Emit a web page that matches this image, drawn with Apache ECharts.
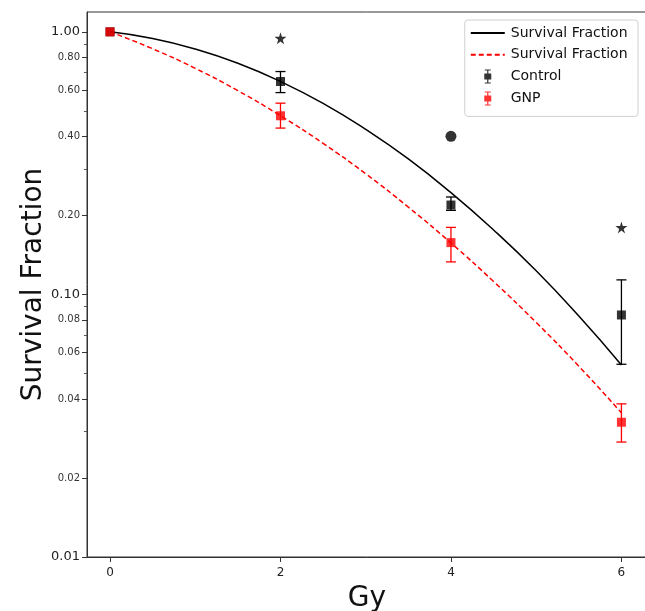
<!DOCTYPE html>
<html>
<head>
<meta charset="utf-8">
<script src="https://cdn.jsdelivr.net/npm/echarts@6/dist/echarts.min.js"></script>
<style>html,body{margin:0;padding:0;background:#fff}#c{width:645px;height:611px}</style>
</head>
<body>
<div id="c"></div>
<script>
// ---- data ----
var doses = [0, 2, 4, 6];
var controlMean = [1.0, 0.647, 0.219, 0.0835];
var controlLow  = [null, 0.587, 0.209, 0.0542];
var controlHigh = [null, 0.706, 0.235, 0.1136];
var gnpMean = [1.0, 0.479, 0.1575, 0.0326];
var gnpLow  = [null, 0.430, 0.133, 0.0274];
var gnpHigh = [null, 0.535, 0.180, 0.0383];

var fitDose = [0, 0.5, 1, 1.5, 2, 2.5, 3, 3.5, 4, 4.5, 5, 5.5, 6];
var controlFit = [1.0, 0.943, 0.860, 0.759, 0.647, 0.534, 0.425, 0.328, 0.244, 0.176, 0.123, 0.0827, 0.0539];
var gnpFit = [1.0, 0.862, 0.726, 0.597, 0.479, 0.376, 0.288, 0.215, 0.157, 0.112, 0.0782, 0.0533, 0.0354];

var starPoints = [[2, 0.946], [6, 0.18]];
var circlePoints = [[4, 0.40]];

var xTicks = [0, 2, 4, 6];
var yTickValues = [0.01, 0.02, 0.04, 0.06, 0.08, 0.1, 0.2, 0.4, 0.6, 0.8, 1.0];
var yMinorTicks = [0.03, 0.05, 0.07, 0.09, 0.3, 0.5, 0.7, 0.9];

// ---- build ----
function pairs(xs, ys) { return xs.map(function (x, i) { return [x, ys[i]]; }); }
function errData(xs, lo, hi) {
  var out = [];
  xs.forEach(function (x, i) { if (lo[i] != null) out.push([x, lo[i], hi[i]]); });
  return out;
}
function errRender(color) {
  return function (params, api) {
    var x = api.value(0);
    var a = api.coord([x, api.value(1)]);
    var b = api.coord([x, api.value(2)]);
    var w = 5;
    var st = { stroke: color, lineWidth: 1.3 };
    return {
      type: 'group',
      children: [
        { type: 'line', shape: { x1: a[0], y1: a[1], x2: b[0], y2: b[1] }, style: st },
        { type: 'line', shape: { x1: a[0] - w, y1: a[1], x2: a[0] + w, y2: a[1] }, style: st },
        { type: 'line', shape: { x1: b[0] - w, y1: b[1], x2: b[0] + w, y2: b[1] }, style: st }
      ]
    };
  };
}
var errIcon = 'path://M2,0H8V1H2Z M4.4,0H5.6V14H4.4Z M1.5,4H8.5V10H1.5Z M2,13H8V14H2Z';
var starPath = 'path://M50,0L61,35L98,35L68,57L79,91L50,70L21,91L32,57L2,35L39,35Z';
var FONT = 'DejaVu Sans';

var chart = echarts.init(document.getElementById('c'), null, { renderer: 'canvas' });
chart.setOption({
  animation: false,
  textStyle: { fontFamily: FONT },
  grid: { left: 87, right: -2, top: 12, bottom: 54, outerBoundsMode: 'none', containLabel: false,
    show: true, borderColor: '#333', borderWidth: 1, backgroundColor: 'transparent' },
  legend: {
    orient: 'vertical', right: 7, top: 20,
    padding: [6, 6, 11, 5],
    itemWidth: 34, itemHeight: 14, itemGap: 7.8,
    textStyle: { fontFamily: FONT, fontSize: 14, color: '#111', padding: [0, 0, 0, 1] },
    borderColor: '#d0d0d0', borderWidth: 1, borderRadius: 3, backgroundColor: '#fff',
    data: [
      { name: 'Survival Fraction', itemStyle: { opacity: 0 } },
      { name: 'Survival Fraction ', itemStyle: { opacity: 0 } },
      { name: 'Control', icon: errIcon },
      { name: 'GNP', icon: errIcon }
    ]
  },
  xAxis: {
    type: 'value', min: -0.27, max: 6.3,
    name: 'Gy', nameLocation: 'middle', nameGap: 28, nameMoveOverlap: false,
    nameTextStyle: { fontFamily: FONT, fontSize: 28, color: '#111' },
    axisLine: { onZero: false, lineStyle: { color: '#333', width: 1 } },
    axisTick: { show: true, length: 5, lineStyle: { color: '#333' }, customValues: xTicks },
    axisLabel: { fontSize: 12, color: '#222', margin: 10, customValues: xTicks },
    splitLine: { show: false }
  },
  yAxis: [{
    type: 'log', logBase: 10, min: 0.01, max: 1.19,
    name: 'Survival Fraction', nameLocation: 'middle', nameGap: 39, nameMoveOverlap: false,
    nameTextStyle: { fontFamily: FONT, fontSize: 28, color: '#111' },
    axisLine: { show: true, onZero: false, lineStyle: { color: '#333', width: 1 } },
    axisTick: { show: true, length: 5, lineStyle: { color: '#333' }, customValues: yTickValues },
    axisLabel: {
      margin: 7, customValues: yTickValues,
      formatter: function (v) {
        var l = Math.log10(v);
        var s = (+v).toFixed(2);
        return Math.abs(l - Math.round(l)) < 1e-6 ? '{big|' + s + '}' : '{small|' + s + '}';
      },
      rich: {
        big: { fontFamily: FONT, fontSize: 13, color: '#222' },
        small: { fontFamily: FONT, fontSize: 10, color: '#333' }
      }
    },
    splitLine: { show: false }
  }, {
    type: 'log', logBase: 10, min: 0.01, max: 1.19, position: 'left',
    axisLine: { show: false, onZero: false },
    axisTick: { show: true, length: 3, lineStyle: { color: '#555' }, customValues: yMinorTicks },
    axisLabel: { show: false },
    splitLine: { show: false }
  }],
  series: [
    { name: 'Survival Fraction', type: 'line', smooth: true, symbol: 'none', data: pairs(fitDose, controlFit),
      lineStyle: { color: '#000', width: 1.5 }, itemStyle: { color: '#000' }, z: 2 },
    { name: 'Survival Fraction ', type: 'line', smooth: true, symbol: 'none', data: pairs(fitDose, gnpFit),
      lineStyle: { color: '#f00', width: 1.5, type: [5, 3] }, itemStyle: { color: '#f00' }, z: 2 },
    { name: 'ctlErr', type: 'custom', renderItem: errRender('#000'), data: errData(doses, controlLow, controlHigh), z: 3 },
    { name: 'Control', type: 'scatter', symbol: 'rect', symbolSize: 9, data: pairs(doses, controlMean),
      itemStyle: { color: '#000' }, z: 4 },
    { name: 'gnpErr', type: 'custom', renderItem: errRender('#f00'), data: errData(doses, gnpLow, gnpHigh), z: 5 },
    { name: 'GNP', type: 'scatter', symbol: 'rect', symbolSize: 9, data: pairs(doses, gnpMean),
      itemStyle: { color: '#f00' }, z: 6 },
    { name: 'stars', type: 'scatter', symbol: starPath, symbolSize: 12, data: starPoints,
      itemStyle: { color: '#000' }, z: 6 },
    { name: 'circle', type: 'scatter', symbol: 'circle', symbolSize: 11, data: circlePoints,
      itemStyle: { color: '#000' }, z: 6 }
  ]
});
</script>
</body>
</html>
